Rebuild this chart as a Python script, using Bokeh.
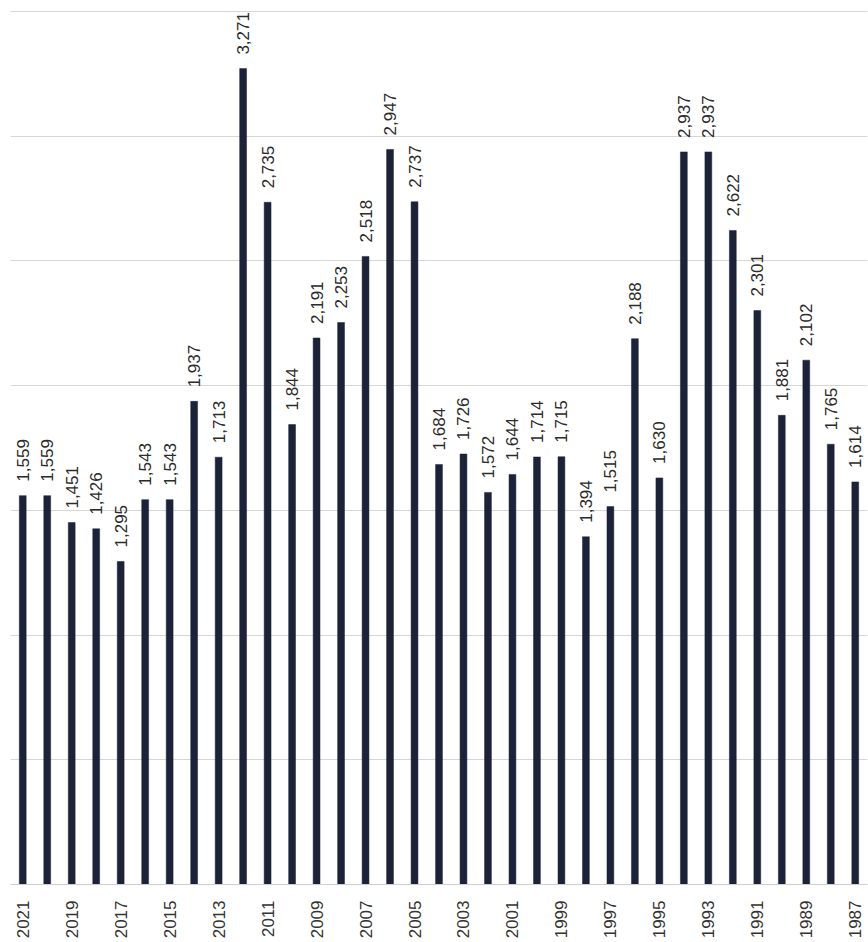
import math
from bokeh.plotting import figure
from bokeh.models import ColumnDataSource, Range1d, FixedTicker
from bokeh.embed import file_html
from bokeh.resources import INLINE
from bokeh.core.properties import value

years = [2021, 2020, 2019, 2018, 2017, 2016, 2015, 2014, 2013, 2012,
         2011, 2010, 2009, 2008, 2007, 2006, 2005, 2004, 2003, 2002,
         2001, 2000, 1999, 1998, 1997, 1996, 1995, 1994, 1993, 1992,
         1991, 1990, 1989, 1988, 1987]
values = [1559, 1559, 1451, 1426, 1295, 1543, 1543, 1937, 1713, 3271,
          2735, 1844, 2191, 2253, 2518, 2947, 2737, 1684, 1726, 1572,
          1644, 1714, 1715, 1394, 1515, 2188, 1630, 2937, 2937, 2622,
          2301, 1881, 2102, 1765, 1614]
tick_years = [2021, 2019, 2017, 2015, 2013, 2011, 2009, 2007, 2005, 2003,
              2001, 1999, 1997, 1995, 1993, 1991, 1989, 1987]
grid_values = [0, 500, 1000, 1500, 2000, 2500, 3000, 3500]

labels = ["{:,}".format(v) for v in values]
src = ColumnDataSource(dict(x=years, top=values, label=labels))

p = figure(width=868, height=942, output_backend="svg", toolbar_location=None,
           x_range=Range1d(2021.5, 1986.5), y_range=Range1d(0, 3520),
           min_border_left=10, min_border_right=1, min_border_top=6,
           min_border_bottom=58)
p.outline_line_color = None
p.background_fill_color = "white"
p.border_fill_color = "white"

p.vbar(x="x", top="top", width=0.28, bottom=0, source=src,
       fill_color="#1c2338", line_color="#1c2338", line_width=0.5)
p.text(x="x", y="top", text="label", source=src, angle=math.pi / 2,
       text_align="left", text_baseline="middle", y_offset=-14,
       text_font=value("Liberation Sans"), text_font_size="17px",
       text_color="#2b2b2b")

p.yaxis.visible = False
p.xaxis.ticker = FixedTicker(ticks=tick_years)
p.xaxis.major_label_orientation = math.pi / 2
p.xaxis.major_label_text_font = "Liberation Sans"
p.xaxis.major_label_text_font_size = "17px"
p.xaxis.major_label_text_color = "#333333"
p.xaxis.axis_line_color = "#cfcfcf"
p.xaxis.major_tick_line_color = None
p.xaxis.minor_tick_line_color = None
p.xaxis.major_label_standoff = 10

p.xgrid.grid_line_color = None
p.ygrid.ticker = FixedTicker(ticks=grid_values)
p.ygrid.grid_line_color = "#d6d6d6"
p.ygrid.grid_line_width = 1

open("out.html", "w").write(file_html(p, INLINE))
